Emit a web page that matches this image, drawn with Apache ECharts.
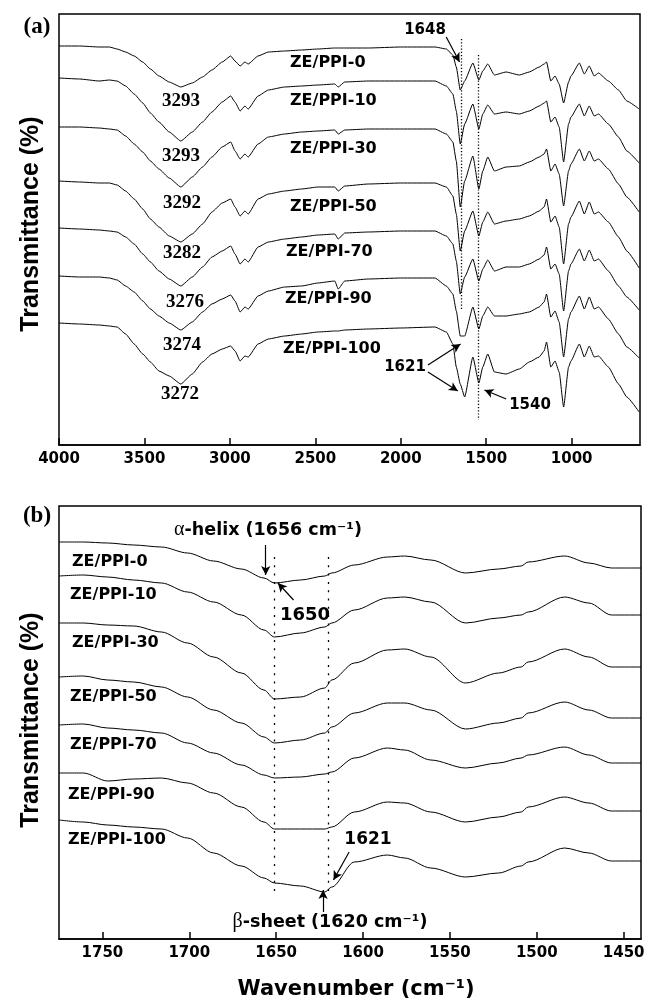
<!DOCTYPE html>
<html>
<head>
<meta charset="utf-8">
<script src="https://cdn.jsdelivr.net/npm/echarts@6/dist/echarts.min.js"></script>
<style>html,body{margin:0;padding:0;background:#fff}#c{width:649px;height:1003px}</style>
</head>
<body>
<div id="c"></div>
<script>
// ---------- DATA ----------
const SAMPLE_NAMES = ['ZE/PPI-0','ZE/PPI-10','ZE/PPI-30','ZE/PPI-50','ZE/PPI-70','ZE/PPI-90','ZE/PPI-100'];

// Panel (a): wavenumbers (cm-1) and transmittance (arbitrary, stacked)
const WN_A = [4000,3880,3765,3705,3660,3610,3560,3510,3465,3415,3355,3287,3220,3160,3105,3045,2995,
  2970,2940,2912,2893,2835,2775,2680,2580,2485,2386,2366,2328,2190,2000,1800,
  1733,1695,1675,1652,1626,1578,1543,1520,1491,1452,1384,1306,1248,
  1190,1161,1147,1122,1097,1073,1047,1018,1004,955,926,897,868,843,785,726,677,605];
const A_PPI0 = [399,399,398,398,396,393,389,383,376,369,363,358,362,368,375,383,389,
  384,379,383,381,389,393,394,395,396,397,397,397,397,398,398,
  396,390,378,355,364,382,365,374,381,370,373,370,373,
  378,381,383,364,369,361,342,363,369,382,371,379,369,372,364,355,344,336];
const A_PPI10 = [367,366,364,365,364,359,351,342,332,323,313,304,313,323,333,343,349,
  343,334,339,336,349,355,358,359,360,361,358,363,364,364,364,
  359,351,334,301,321,341,316,331,340,331,333,331,334,
  339,342,344,323,328,318,283,321,328,341,329,339,329,331,321,308,294,282];
const A_PPI30 = [318,318,317,316,315,309,301,293,284,276,267,258,268,278,288,298,303,
  294,286,291,288,301,308,311,313,314,315,311,315,316,316,316,
  311,303,284,238,264,289,256,274,288,274,278,279,283,
  288,291,296,274,281,271,239,274,281,296,284,294,284,286,276,261,248,233];
const A_PPI50 = [264,263,262,262,260,254,246,236,226,218,209,203,211,221,233,242,246,
  238,229,234,231,246,251,254,256,258,258,254,259,261,262,262,
  258,249,231,194,214,234,209,223,233,221,224,226,229,
  234,238,246,223,229,218,181,221,228,244,231,243,231,233,223,208,194,177];
const A_PPI70 = [217,216,215,214,213,208,201,191,183,174,166,159,168,178,188,194,199,
  191,181,186,183,198,203,206,208,210,211,206,212,213,214,214,
  209,201,184,151,168,186,164,176,185,174,178,178,181,
  186,190,198,176,181,171,134,174,181,196,184,195,184,186,174,159,148,135];
const A_PPI90 = [169,168,168,167,165,159,153,144,136,129,122,115,123,133,141,146,150,
  144,133,138,136,149,154,158,159,162,164,156,164,166,167,167,
  159,151,134,109,109,138,116,129,138,129,129,131,133,
  138,143,151,128,134,123,88,126,133,149,136,148,136,138,126,111,98,87];
const A_PPI100 = [122,121,120,119,118,111,101,91,83,74,69,61,71,83,91,96,99,
  94,84,89,88,101,106,109,111,113,114,114,115,116,117,118,
  113,101,78,61,48,88,62,78,91,73,71,76,83,
  88,94,103,78,84,73,38,78,84,101,88,99,88,89,78,61,48,33];
const PEAKS_A = ['3293','3293','3292','3282','3276','3274','3272'];
const TICKS_A = [4000,3500,3000,2500,2000,1500,1000];

// Panel (b): amide I / II region
const WN_B = [1775,1761,1747,1732,1716,1701,1686,1670,1657,1651,1636,1622,1618,1605,1586,1576,1561,1541,1522,1509,1505,1484,1470,1457,1440];
const B_PPI0 = [397,397,396,394,392,386,378,370,361,356,359,363,366,374,382,383,379,366,370,373,377,383,376,371,371];
const B_PPI10 = [363,364,362,359,356,347,337,324,309,302,306,312,316,329,341,342,337,316,321,324,327,342,336,324,324];
const B_PPI30 = [316,316,314,313,307,296,282,266,249,240,242,251,259,276,289,290,282,256,266,272,277,290,282,272,272];
const B_PPI50 = [262,263,259,257,252,242,229,216,202,196,199,206,212,226,236,236,229,210,216,221,226,237,229,221,221];
const B_PPI70 = [214,215,211,209,206,196,186,174,164,161,162,165,167,181,191,189,179,171,176,181,184,192,184,176,176];
const B_PPI90 = [166,166,158,160,161,156,146,132,117,110,110,110,112,127,137,136,127,117,122,127,132,142,136,128,128];
const B_PPI100 = [119,117,114,112,110,101,86,73,61,56,53,47,52,77,84,81,71,62,66,73,77,91,86,78,78];
const TICKS_B = [1750,1700,1650,1600,1550,1500,1450];

// Reference lines (wavenumber, from, to) and annotation arrows ([x1,y1],[x2,y2]) in data units
const DOTTED_A = [[1648,406,135],[1545,390,25]];
const DOTTED_B = [[1651,382,46],[1620,382,46]];
const ARROWS_A = [[[1734,408],[1656,383]],[[1841,80],[1650,101]],[[1841,73],[1666,54]],[[1383,46],[1510,55]]];
const ARROWS_B = [[[1656,394],[1656,364]],[[1640,339],[1649,356]],[[1608,87],[1617,59]],[[1623,27],[1623,49]]];

const SPEC_A = [A_PPI0,A_PPI10,A_PPI30,A_PPI50,A_PPI70,A_PPI90,A_PPI100];
const SPEC_B = [B_PPI0,B_PPI10,B_PPI30,B_PPI50,B_PPI70,B_PPI90,B_PPI100];

// ---------- CHART ----------
const chart = echarts.init(document.getElementById('c'), null, {renderer:'canvas'});
const SANS = '"DejaVu Sans", sans-serif';
const ARIAL = '"Liberation Sans", Arial, sans-serif';
const SERIF = '"Liberation Serif", "Times New Roman", serif';

function xAxisCfg(idx, min, max, ticks){
  return {
    type:'value', gridIndex:idx, inverse:true, min:min, max:max,
    axisLine:{show:true, lineStyle:{color:'#000', width:1.5}},
    axisTick:{show:true, inside:true, length:7, customValues:ticks, lineStyle:{color:'#000', width:1.5}},
    axisLabel:{show:true, customValues:ticks, margin:7, color:'#000', fontFamily:SANS, fontWeight:'bold', fontSize:15,
      formatter: v => String(v), hideOverlap:false},
    splitLine:{show:false}
  };
}
function yAxisCfg(idx, max){
  return {type:'value', gridIndex:idx, min:0, max:max, axisLine:{show:false}, axisTick:{show:false}, axisLabel:{show:false}, splitLine:{show:false}};
}
function dottedLines(list, dash){
  return list.map(d => [
    {coord:[d[0], d[1]], symbol:'none', lineStyle:{type:dash, color:'#000', width:1.3}},
    {coord:[d[0], d[2]], symbol:'none'}
  ]);
}
function arrowLines(list){
  return list.map(a => [
    {coord:a[0], symbol:'none', lineStyle:{type:'solid', color:'#000', width:1.2}},
    {coord:a[1], symbol:'arrow'}
  ]);
}

const series = [];
SPEC_A.forEach((s,i) => {
  const ser = {type:'line', name:SAMPLE_NAMES[i]+' (a)', xAxisIndex:0, yAxisIndex:0, showSymbol:false, silent:true, animation:false,
    smooth:0.15, smoothMonotone:'x',
    data: WN_A.map((w,j)=>[w, s[j]]), lineStyle:{color:'#000', width:1}};
  if (i===0) ser.markLine = {silent:true, animation:false, label:{show:false}, data: dottedLines(DOTTED_A, [1.2,2])};
  if (i===1) ser.markLine = {silent:true, animation:false, symbolSize:[7,9], label:{show:false}, data: arrowLines(ARROWS_A)};
  series.push(ser);
});
SPEC_B.forEach((s,i) => {
  const ser = {type:'line', name:SAMPLE_NAMES[i]+' (b)', xAxisIndex:1, yAxisIndex:1, showSymbol:false, silent:true, animation:false,
    smooth:0.3, smoothMonotone:'x',
    data: WN_B.map((w,j)=>[w, s[j]]), lineStyle:{color:'#000', width:1}};
  if (i===0) ser.markLine = {silent:true, animation:false, label:{show:false}, data: dottedLines(DOTTED_B, [2,6.3])};
  if (i===1) ser.markLine = {silent:true, animation:false, symbolSize:[7,9], label:{show:false}, data: arrowLines(ARROWS_B)};
  series.push(ser);
});

function txt(x, y, text, font, align, extra){
  return Object.assign({type:'text', x:x, y:y, silent:true, style:{text:text, font:font, fill:'#000',
    textAlign:align||'center', align:align||'center', textVerticalAlign:'middle', verticalAlign:'middle'}}, extra||{});
}
const LBL_FONT = 'bold 16px ' + SANS;
const labelPosA = [[290,63],[290,101],[290,149],[290,207],[286,252],[285,299],[283,349]];
const peakPosA = [[181,101],[181,156],[182,203],[182,253],[185,302],[182,345],[180,394]];
const labelPosB = [[72,562],[70,595],[72,643],[70,697],[70,745],[68,795],[68,840]];

const graphics = [
  txt(37,27,'(a)','bold 23px '+SERIF),
  txt(37,516,'(b)','bold 23px '+SERIF),
  txt(31,224,'Transmittance (%)','bold 25px '+ARIAL,'center',{rotation:Math.PI/2}),
  txt(31,720,'Transmittance (%)','bold 25px '+ARIAL,'center',{rotation:Math.PI/2}),
  txt(356,990,'Wavenumber (cm\u207B\u00B9)','bold 21px '+SANS),
  txt(425,30,'1648','bold 15px '+SANS),
  txt(405,367,'1621','bold 15px '+SANS),
  txt(530,405,'1540','bold 15px '+SANS),
  txt(305,615,'1650','bold 18px '+SANS),
  txt(368,840,'1621','bold 17px '+SANS),
  {type:'text', x:268, y:530, silent:true, style:{text:'{g|\u03B1}-helix (1656 cm\u207B\u00B9)', font:'bold 17.5px '+SANS, fill:'#000',
    textAlign:'center', align:'center', textVerticalAlign:'middle', verticalAlign:'middle',
    rich:{g:{fontFamily:SERIF, fontWeight:'normal', fontSize:20, fill:'#000'}}}},
  {type:'text', x:330, y:922, silent:true, style:{text:'{g|\u03B2}-sheet (1620 cm\u207B\u00B9)', font:'bold 17.5px '+SANS, fill:'#000',
    textAlign:'center', align:'center', textVerticalAlign:'middle', verticalAlign:'middle',
    rich:{g:{fontFamily:SERIF, fontWeight:'normal', fontSize:20, fill:'#000'}}}}
];
SAMPLE_NAMES.forEach((n,i) => {
  graphics.push(txt(labelPosA[i][0], labelPosA[i][1], n, LBL_FONT, 'left'));
  graphics.push(txt(labelPosB[i][0], labelPosB[i][1], n, LBL_FONT, 'left'));
  graphics.push(txt(peakPosA[i][0], peakPosA[i][1], PEAKS_A[i], 'bold 19px '+SERIF));
});

chart.setOption({
  animation:false,
  backgroundColor:'#fff',
  grid:[
    {left:59, top:14, width:581, height:431, show:true, borderColor:'#000', borderWidth:1.5, backgroundColor:'transparent', containLabel:false, outerBoundsMode:'none'},
    {left:59, top:506, width:582, height:433, show:true, borderColor:'#000', borderWidth:1.5, backgroundColor:'transparent', containLabel:false, outerBoundsMode:'none'}
  ],
  xAxis:[xAxisCfg(0,600,4000,TICKS_A), xAxisCfg(1,1440,1775,TICKS_B)],
  yAxis:[yAxisCfg(0,431), yAxisCfg(1,433)],
  series: series,
  graphic: graphics
});
</script>
</body>
</html>
